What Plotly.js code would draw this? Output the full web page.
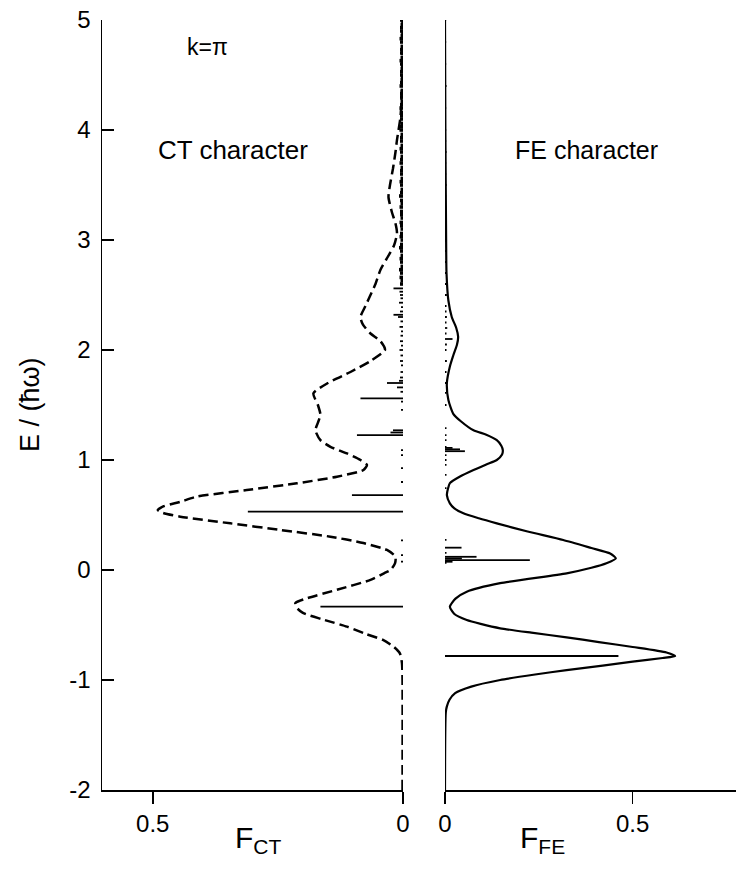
<!DOCTYPE html>
<html>
<head>
<meta charset="utf-8">
<script src="https://cdn.plot.ly/plotly-3.0.1.min.js"></script>
<style>html,body{margin:0;padding:0;background:#fff}#chart{width:736px;height:872px}</style>
</head>
<body>
<div id="chart"></div>
<script>
// ---- CT (left panel) smooth curve: energy E and weight F ----
const ctCurveE = [-2.0,-1.0,-0.85,-0.76,-0.7,-0.636,-0.58,-0.515,-0.45,-0.39,-0.34,-0.30,-0.257,-0.18,-0.09,-0.03,0.0,0.06,0.121,0.182,0.245,0.303,0.364,0.424,0.485,0.52,0.545,0.58,0.62,0.667,0.727,0.788,0.848,0.909,0.955,1.0,1.06,1.12,1.18,1.27,1.34,1.41,1.5,1.606,1.7,1.8,1.9,2.0,2.08,2.15,2.23,2.30,2.4,2.5,2.6,2.73,2.85,2.95,3.06,3.15,3.25,3.39,3.5,3.65,3.8,3.91,4.12,4.4,5.0];
const ctCurveF = [0.001,0.001,0.002,0.006,0.018,0.04,0.075,0.112,0.16,0.20,0.213,0.215,0.192,0.132,0.065,0.038,0.025,0.016,0.015,0.032,0.079,0.145,0.245,0.345,0.445,0.48,0.49,0.478,0.445,0.412,0.312,0.212,0.132,0.079,0.072,0.085,0.112,0.145,0.165,0.175,0.17,0.165,0.17,0.179,0.15,0.105,0.065,0.036,0.045,0.065,0.08,0.085,0.075,0.065,0.055,0.045,0.03,0.018,0.012,0.015,0.022,0.029,0.026,0.02,0.015,0.012,0.005,0.002,0.001];

// ---- CT sticks (resolved lines and small ones) ----
const ctStickE = [0.53,0.68,-0.333,1.227,1.56,1.70,1.25,1.27,2.32,2.56,2.30,1.66,1.72,
  0.076,0.136,0.27,0.80,0.927,1.045,1.09,1.455,1.53,1.62,1.75,1.80,1.86,1.90,1.95,2.00,2.04,2.08,2.13,2.17,2.21,2.26,2.35,2.39,2.43,2.47,2.50,2.53];
const ctStickF = [0.31,0.102,0.165,0.092,0.085,0.032,0.025,0.02,0.019,0.019,0.01,0.012,0.008,
  0.004,0.004,0.004,0.004,0.004,0.004,0.004,0.004,0.004,0.005,0.006,0.005,0.004,0.006,0.005,0.007,0.004,0.006,0.005,0.004,0.007,0.005,0.006,0.004,0.008,0.005,0.006,0.007];
// ---- CT dense high-energy sticks ----
const ctDenseE = [2.60,2.63,2.66,2.70,2.73,2.76,2.80,2.83,2.86,2.90,2.93,2.96,3.00,3.03,3.06,3.10,3.13,3.16,3.20,3.23,3.26,3.30,3.33,3.36,3.40,3.43,3.46,3.50,3.53,3.56,3.60,3.63,3.66,3.70,3.73,3.76,3.80,3.83,3.86,3.90,3.93,3.96,4.00,4.03,4.06,4.10,4.13,4.16,4.20,4.23,4.26,4.30,4.33,4.36,4.40,4.43,4.46,4.50,4.53,4.56,4.60,4.63,4.66,4.70,4.73,4.76,4.80,4.83,4.86,4.90,4.93,4.96,5.00];
const ctDenseF = [0.006,0.005,0.007,0.006,0.008,0.005,0.006,0.007,0.005,0.006,0.008,0.006,0.005,0.007,0.006,0.005,0.006,0.007,0.005,0.006,0.006,0.007,0.005,0.006,0.008,0.006,0.005,0.006,0.007,0.005,0.006,0.006,0.005,0.007,0.006,0.005,0.006,0.007,0.005,0.006,0.006,0.005,0.007,0.006,0.005,0.006,0.006,0.005,0.007,0.006,0.005,0.006,0.006,0.005,0.007,0.006,0.005,0.006,0.006,0.005,0.006,0.007,0.005,0.006,0.006,0.005,0.006,0.007,0.005,0.006,0.006,0.005,0.006];

// ---- FE (right panel) smooth curve ----
const feCurveE = [-2.0,-1.3,-1.24,-1.18,-1.12,-1.06,-1.0,-0.95,-0.91,-0.87,-0.833,-0.80,-0.782,-0.75,-0.70,-0.655,-0.612,-0.57,-0.53,-0.49,-0.455,-0.40,-0.333,-0.26,-0.197,-0.12,-0.03,0.02,0.061,0.106,0.15,0.20,0.273,0.35,0.424,0.47,0.515,0.56,0.606,0.68,0.74,0.79,0.85,0.909,0.96,1.0,1.05,1.09,1.13,1.18,1.23,1.27,1.35,1.42,1.545,1.7,1.85,1.95,2.05,2.12,2.2,2.3,2.45,2.7,3.0,4.0,5.0];
const feCurveF = [0.0,0.002,0.005,0.012,0.027,0.07,0.147,0.24,0.324,0.42,0.50,0.58,0.613,0.59,0.50,0.41,0.324,0.23,0.147,0.095,0.058,0.025,0.013,0.028,0.058,0.147,0.324,0.39,0.43,0.455,0.44,0.39,0.315,0.22,0.138,0.09,0.049,0.025,0.013,0.005,0.008,0.013,0.04,0.076,0.11,0.138,0.152,0.154,0.15,0.138,0.11,0.076,0.043,0.022,0.009,0.005,0.013,0.022,0.032,0.035,0.03,0.018,0.009,0.004,0.003,0.001,0.0];

// ---- FE sticks ----
const feStickE = [-0.782,0.09,0.12,0.075,0.105,0.203,1.08,1.097,1.11,2.1,
  0.064,0.155,0.273,0.745,0.864,0.955,1.0,1.045,1.118,1.18,1.227,1.29,1.50,1.61,1.70,1.80,1.90,2.00,2.05,2.15,2.20,2.25,2.30,2.35,2.40,2.50,2.60,2.70,2.80,2.90,3.00,3.10,3.20,3.30,3.40,3.50,3.60,3.70,3.80,3.90,4.00,4.20,4.40,4.60,4.80,5.00];
const feStickF = [0.462,0.226,0.084,0.02,0.045,0.044,0.053,0.04,0.02,0.02,
  0.004,0.004,0.004,0.004,0.004,0.004,0.004,0.004,0.004,0.004,0.004,0.004,0.004,0.004,0.004,0.004,0.005,0.004,0.005,0.004,0.006,0.004,0.005,0.004,0.004,0.005,0.004,0.003,0.004,0.003,0.004,0.003,0.004,0.003,0.003,0.004,0.003,0.003,0.004,0.003,0.003,0.003,0.004,0.003,0.003,0.003];

// ---- axis ticks ----
const yTickVals = [-2,-1,0,1,2,3,4,5];
const yTickText = ['-2','-1','0','1','2','3','4','5'];
const ctTickVals = [0.5,0];
const ctTickText = ['0.5','0'];
const feTickVals = [0,0.5];
const feTickText = ['0','0.5'];

function sticks(E, F) {
  const x = [], y = [];
  for (let i = 0; i < E.length; i++) { x.push(0, F[i], null); y.push(E[i], E[i], null); }
  return {x, y};
}
const ctS = sticks(ctStickE, ctStickF);
const ctD = sticks(ctDenseE, ctDenseF);
const feS = sticks(feStickE, feStickF);

const FONT = 'Liberation Sans, Arial, sans-serif';

const traces = [
  {x: ctCurveF, y: ctCurveE, xaxis:'x', yaxis:'y', mode:'lines', line:{color:'#000', width:2.5, dash:'10px,5px', shape:'spline', smoothing:0.6}, hoverinfo:'skip'},
  {x: ctS.x, y: ctS.y, xaxis:'x', yaxis:'y', mode:'lines', line:{color:'#000', width:1.8}, hoverinfo:'skip'},
  {x: ctD.x, y: ctD.y, xaxis:'x', yaxis:'y', mode:'lines', line:{color:'#000', width:3.6}, hoverinfo:'skip'},
  {x: feCurveF, y: feCurveE, xaxis:'x2', yaxis:'y', mode:'lines', line:{color:'#000', width:2.2, shape:'spline', smoothing:0.6}, hoverinfo:'skip'},
  {x: feS.x, y: feS.y, xaxis:'x2', yaxis:'y', mode:'lines', line:{color:'#000', width:1.8}, hoverinfo:'skip'}
];

const L = 102, W = 634, B = 790, H = 770;
const px = v => (v - L) / W;
const py = v => (B - v) / H;

const layout = {
  width: 736, height: 872,
  margin: {l: L, r: 0, t: 20, b: 82},
  paper_bgcolor: '#fff', plot_bgcolor: '#fff',
  showlegend: false,
  font: {family: FONT, color: '#000', size: 24},
  xaxis: {domain: [0, 301/634], range: [0.6014, 0], anchor: 'y',
    showgrid: false, zeroline: false, showline: true, linecolor: '#000', linewidth: 1.5,
    ticks: 'outside', ticklen: 12, tickwidth: 1.5, tickcolor: '#000',
    tickvals: ctTickVals, ticktext: ctTickText, tickfont: {size: 24, family: FONT}},
  xaxis2: {domain: [343/634, 1], range: [0, 0.7752], anchor: 'y',
    showgrid: false, zeroline: false, showline: true, linecolor: '#000', linewidth: 1.5,
    ticks: 'outside', ticklen: 12, tickwidth: 1.5, tickcolor: '#000',
    tickvals: feTickVals, ticktext: feTickText, tickfont: {size: 24, family: FONT}},
  yaxis: {domain: [0, 1], range: [-2, 5], anchor: 'x',
    showgrid: false, zeroline: false, showline: true, linecolor: '#000', linewidth: 1.5,
    ticks: 'inside', ticklen: 12, tickwidth: 1.5, tickcolor: '#000',
    tickvals: yTickVals, ticktext: yTickText, tickfont: {size: 24, family: FONT},
    ticklabelstandoff: 5},
  annotations: [
    {text: 'k=π', xref:'paper', yref:'paper', x: px(207), y: py(47), showarrow:false, font:{size:23}, xanchor:'center', yanchor:'middle'},
    {text: 'CT character', xref:'paper', yref:'paper', x: px(233), y: py(150), showarrow:false, font:{size:26}, xanchor:'center', yanchor:'middle'},
    {text: 'FE character', xref:'paper', yref:'paper', x: px(586), y: py(150), showarrow:false, font:{size:25}, xanchor:'center', yanchor:'middle'},
    {text: 'E / (ħω)', xref:'paper', yref:'paper', x: px(30), y: py(405), showarrow:false, textangle:-90, font:{size:27}, xanchor:'center', yanchor:'middle'},
    {text: 'F<sub>CT</sub>', xref:'paper', yref:'paper', x: px(258), y: py(840), showarrow:false, font:{size:30}, xanchor:'center', yanchor:'middle'},
    {text: 'F<sub>FE</sub>', xref:'paper', yref:'paper', x: px(542), y: py(840), showarrow:false, font:{size:30}, xanchor:'center', yanchor:'middle'}
  ]
};

Plotly.newPlot('chart', traces, layout, {staticPlot: true, displayModeBar: false});
</script>
</body>
</html>
